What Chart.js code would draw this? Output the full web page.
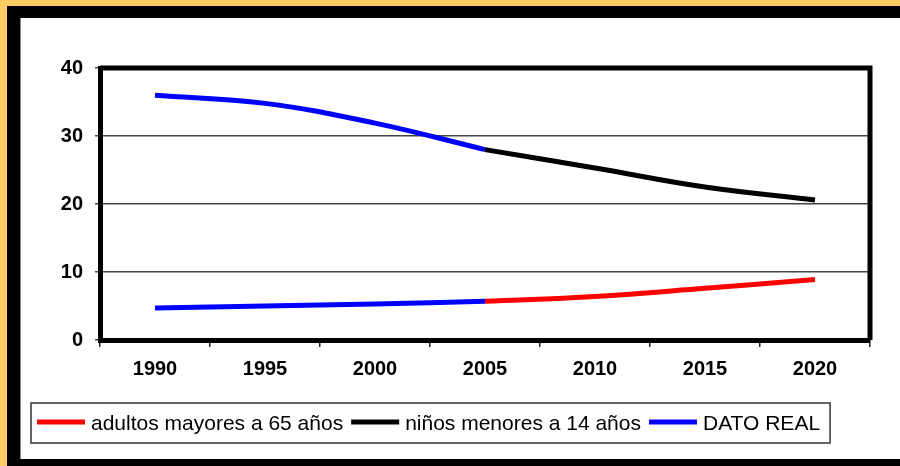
<!DOCTYPE html>
<html>
<head>
<meta charset="utf-8">
<script src="https://cdn.jsdelivr.net/npm/chart.js@4/dist/chart.umd.min.js"></script>
<style>
  html, body { margin: 0; padding: 0; }
  body { width: 900px; height: 466px; background: #ffcc66; position: relative; overflow: hidden; }
  #frame { position: absolute; left: 7px; top: 6px; width: 893px; height: 460px; background: #000; }
  #paper { position: absolute; left: 20px; top: 18px; width: 880px; height: 441px; background: #fff;
           border-left: 1px solid #888; box-sizing: border-box; }
  #chart { position: absolute; left: 0; top: 0; }
</style>
</head>
<body>
<div id="frame"></div>
<div id="paper"></div>
<canvas id="chart" width="900" height="466"></canvas>
<script>
// años (eje X)
const YEARS = ['1990', '1995', '2000', '2005', '2010', '2015', '2020'];
// proyecciones (%)
const ADULTOS_PROY = [null, null, null, 5.7, 6.4, 7.6, 8.9];
const NINOS_PROY = [null, null, null, 28.0, 25.3, 22.5, 20.6];
// datos reales (%)
const NINOS_REAL = [36.0, 34.8, 31.9, 28.0, null, null, null];
const ADULTOS_REAL = [4.7, 5.0, 5.3, 5.7, null, null, null];
const Y_TICKS = [0, 10, 20, 30, 40];

const COL_RED = '#ff0000';
const COL_BLACK = '#000000';
const COL_BLUE = '#0000ff';
const FONT = '"Liberation Sans", Arial, sans-serif';

function serie(label, data, color, inLegend) {
    return {
        label,
        data,
        borderColor: color,
        backgroundColor: color,
        borderWidth: 5,
        borderCapStyle: 'butt',
        pointRadius: 0,
        tension: 0.4,
        fill: false,
        spanGaps: false,
        inLegend
    };
}

// marco grueso del área de trazado + leyenda con caja
const plotFrame = {
    id: 'plotFrame',
    afterDraw(chart) {
        const { ctx, chartArea: a } = chart;
        ctx.save();
        ctx.strokeStyle = '#000';
        ctx.lineWidth = 5;
        ctx.beginPath();
        ctx.moveTo(a.left, a.top);
        ctx.lineTo(a.right, a.top);
        ctx.lineTo(a.right, a.bottom);
        ctx.stroke();
        ctx.restore();
    }
};

const boxLegend = {
    id: 'boxLegend',
    afterDraw(chart) {
        const ctx = chart.ctx;
        const items = chart.data.datasets.filter(d => d.inLegend);
        const x0 = 31, top = 403, h = 40;
        const lineLen = 48, yMid = top + h / 2;
        ctx.save();
        ctx.font = '21px ' + FONT;
        ctx.textBaseline = 'middle';
        ctx.textAlign = 'left';
        let x = x0 + 6;
        items.forEach(d => {
            ctx.strokeStyle = d.borderColor;
            ctx.lineWidth = 5;
            ctx.beginPath();
            ctx.moveTo(x, yMid - 1);
            ctx.lineTo(x + lineLen, yMid - 1);
            ctx.stroke();
            x += lineLen + 6;
            ctx.fillStyle = '#000';
            ctx.fillText(d.label, x, yMid + 1);
            x += ctx.measureText(d.label).width + 8;
        });
        ctx.strokeStyle = '#333';
        ctx.lineWidth = 1.5;
        ctx.strokeRect(x0, top, x - x0 + 2, h);
        ctx.restore();
    }
};

new Chart(document.getElementById('chart'), {
    type: 'line',
    data: {
        labels: YEARS,
        datasets: [
            serie('adultos mayores a 65 años', ADULTOS_PROY, COL_RED, true),
            serie('niños menores a 14 años', NINOS_PROY, COL_BLACK, true),
            serie('DATO REAL', NINOS_REAL, COL_BLUE, true),
            serie('DATO REAL', ADULTOS_REAL, COL_BLUE, false)
        ]
    },
    options: {
        responsive: false,
        animation: false,
        layout: { padding: { top: 68, right: 30, bottom: 76, left: 0 } },
        plugins: {
            legend: { display: false },
            tooltip: { enabled: false }
        },
        scales: {
            x: {
                type: 'category',
                offset: true,
                grid: {
                    offset: true,
                    drawOnChartArea: false,
                    tickLength: 7,
                    color: '#222',
                    lineWidth: 1.5
                },
                border: { width: 5, color: '#000' },
                ticks: {
                    color: '#000',
                    font: { family: FONT, size: 20, weight: 'bold' },
                    padding: 10,
                    maxRotation: 0
                },
                afterFit(scale) { scale.height = 50; }
            },
            y: {
                min: 0,
                max: 40,
                afterBuildTicks(scale) { scale.ticks = Y_TICKS.map(v => ({ value: v })); },
                grid: {
                    color: '#444',
                    lineWidth: 1.5,
                    tickLength: 5
                },
                border: { width: 5, color: '#000' },
                ticks: {
                    color: '#000',
                    font: { family: FONT, size: 20, weight: 'bold' },
                    padding: 12
                },
                afterFit(scale) { scale.width = 100; }
            }
        }
    },
    plugins: [plotFrame, boxLegend]
});
</script>
</body>
</html>
